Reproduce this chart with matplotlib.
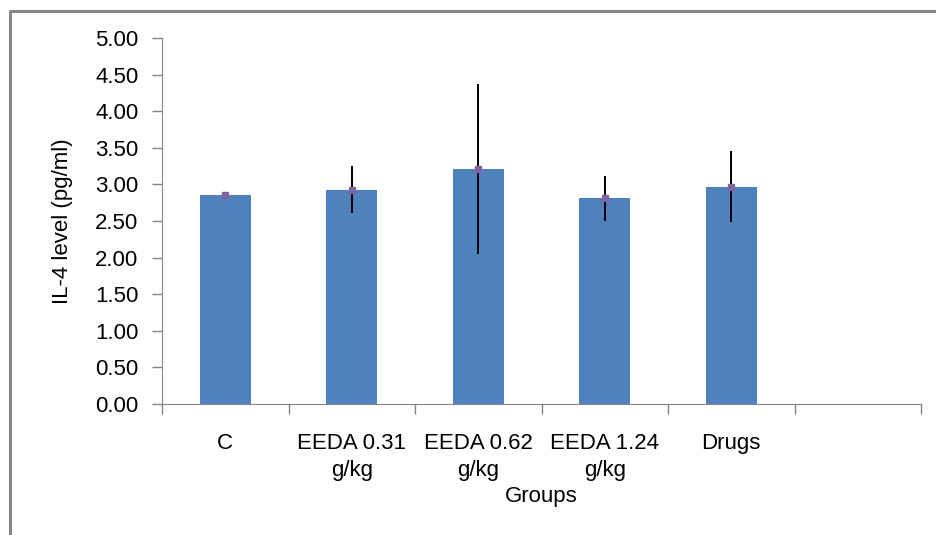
import matplotlib
matplotlib.use('Agg')
import matplotlib.pyplot as plt
from matplotlib.lines import Line2D
import numpy as np

# Data
groups = ['C', 'EEDA 0.31\ng/kg', 'EEDA 0.62\ng/kg', 'EEDA 1.24\ng/kg', 'Drugs', '']
il4_mean = [2.86, 2.93, 3.21, 2.81, 2.97]
il4_err = [0.02, 0.32, 1.16, 0.31, 0.49]
y_ticks = [0.0, 0.5, 1.0, 1.5, 2.0, 2.5, 3.0, 3.5, 4.0, 4.5, 5.0]

plt.rcParams['font.family'] = ['Liberation Sans Narrow', 'Liberation Sans', 'DejaVu Sans']
grey = '#868686'
fs = 16

fig = plt.figure(figsize=(9.36, 5.35), dpi=100)
ax = fig.add_axes([162/936, 131/535, 759/936, 366/535])

x = np.arange(len(il4_mean))
ax.bar(x, il4_mean, width=0.4, color='#4F81BD', zorder=2)
ax.errorbar(x, il4_mean, yerr=il4_err, fmt='none', ecolor='black',
            elinewidth=1.4, capsize=0, zorder=3)
ax.plot(x, il4_mean, linestyle='none', marker='s', markersize=4.5,
        color='#8064A2', zorder=4)

ax.set_xlim(-0.5, len(groups) - 0.5)
ax.set_ylim(0, 5)
ax.set_yticks(y_ticks)
ax.set_yticklabels(['{:.2f}'.format(v) for v in y_ticks], fontsize=fs)

# category labels centred, tick marks at the boundaries
ax.set_xticks(np.arange(len(groups)))
ax.set_xticklabels(groups, fontsize=fs, linespacing=1.35, va='top')
ax.set_xticks(np.arange(len(groups) + 1) - 0.5, minor=True)
ax.tick_params(axis='x', which='major', length=0, pad=21)
ax.tick_params(axis='x', which='minor', length=7, color=grey, width=1)
ax.tick_params(axis='y', length=7, color=grey, width=1, pad=10)

for side in ['top', 'right']:
    ax.spines[side].set_visible(False)
ax.spines['left'].set_color(grey)
ax.spines['bottom'].set_color(grey)

ax.set_ylabel('IL-4 level (pg/ml)', fontsize=fs, labelpad=16)
ax.set_xlabel('Groups', fontsize=fs, labelpad=4)

# grey frame round the chart area (left and top edges visible)
fig.add_artist(Line2D([9.5/936, 9.5/936, 1.0], [0.0, 1 - 10.5/535, 1 - 10.5/535],
                      transform=fig.transFigure, color='#878787', linewidth=2.2))

fig.savefig('out.png', dpi=100)
